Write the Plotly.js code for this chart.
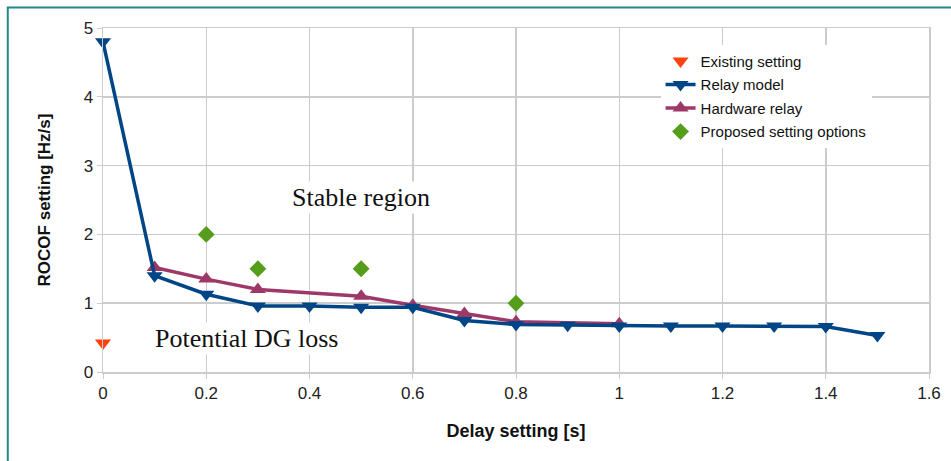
<!DOCTYPE html>
<html>
<head>
<meta charset="utf-8">
<script src="https://cdn.plot.ly/plotly-3.0.1.min.js"></script>
<style>html,body{margin:0;padding:0;background:#fff;}</style>
</head>
<body>
<div id="chart" style="width:951px;height:461px;"></div>
<script>
// Data
const existingX = [0];
const existingY = [0.42];

const relayX = [0, 0.1, 0.2, 0.3, 0.4, 0.5, 0.6, 0.7, 0.8, 0.9, 1.0, 1.1, 1.2, 1.3, 1.4, 1.5];
const relayY = [4.80, 1.40, 1.13, 0.96, 0.96, 0.94, 0.94, 0.75, 0.69, 0.68, 0.67, 0.67, 0.67, 0.67, 0.66, 0.53];

const hardwareX = [0.1, 0.2, 0.3, 0.5, 0.6, 0.7, 0.8, 1.0];
const hardwareY = [1.52, 1.35, 1.20, 1.10, 0.97, 0.85, 0.73, 0.70];

const proposedX = [0.2, 0.3, 0.5, 0.8];
const proposedY = [2.0, 1.5, 1.5, 1.0];

const xTicks = [0, 0.2, 0.4, 0.6, 0.8, 1, 1.2, 1.4, 1.6];
const yTicks = [0, 1, 2, 3, 4, 5];

const names = ['Existing setting', 'Relay model', 'Hardware relay', 'Proposed setting options'];
const labels = ['Stable region', 'Potential DG loss'];

const traces = [
  {x: existingX, y: existingY, name: names[0], mode: 'markers', type: 'scatter', legendrank: 1, legendgroup: 'a', cliponaxis: false,
   marker: {symbol: 'triangle-down', color: '#ff420e', size: 14}},
  {x: relayX, y: relayY, name: names[1], mode: 'lines+markers', type: 'scatter', legendrank: 2, legendgroup: 'b', cliponaxis: false,
   line: {color: '#004586', width: 3.5}, marker: {symbol: 'triangle-down', color: '#004586', size: 14}},
  {x: hardwareX, y: hardwareY, name: names[2], mode: 'lines+markers', type: 'scatter', legendrank: 3, legendgroup: 'c', cliponaxis: false,
   line: {color: '#9e3868', width: 3.5}, marker: {symbol: 'triangle-up', color: '#9e3868', size: 14}},
  {x: proposedX, y: proposedY, name: names[3], mode: 'markers', type: 'scatter', legendrank: 4, legendgroup: 'd', cliponaxis: false,
   marker: {symbol: 'diamond', color: '#579d1c', size: 13}}
];
// draw order: hardware under relay
const ordered = [traces[0], traces[2], traces[1], traces[3]];

const axisFont = {family: 'Liberation Sans, Arial, sans-serif', size: 17, color: '#222'};
const layout = {
  width: 951, height: 461,
  margin: {l: 103, r: 22, t: 28, b: 89},
  paper_bgcolor: '#fff', plot_bgcolor: '#fff',
  showlegend: true,
  legend: {
    x: 0.675, y: 0.951, xanchor: 'left', yanchor: 'top',
    bgcolor: '#fff', borderwidth: 0,
    font: {family: 'Liberation Sans, Arial, sans-serif', size: 15, color: '#111'},
    traceorder: 'grouped', tracegroupgap: 1
  },
  xaxis: {
    range: [0, 1.6], tickvals: xTicks, ticktext: xTicks.map(String),
    showgrid: true, gridcolor: '#cccccc', gridwidth: 1.5,
    zeroline: false, showline: true, mirror: true, linecolor: '#cccccc', linewidth: 1.5,
    ticks: 'outside', ticklen: 5, tickcolor: '#cccccc', tickfont: axisFont,
    title: {text: 'Delay setting [s]', font: {family: 'Liberation Sans, Arial, sans-serif', size: 18, color: '#111', weight: 'bold'}, standoff: 22}
  },
  yaxis: {
    range: [0, 5], tickvals: yTicks, ticktext: yTicks.map(String),
    showgrid: true, gridcolor: '#cccccc', gridwidth: 1.5,
    zeroline: false, showline: true, mirror: true, linecolor: '#cccccc', linewidth: 1.5,
    ticks: 'outside', ticklen: 5, tickcolor: '#cccccc', tickfont: axisFont,
    title: {text: 'ROCOF setting [Hz/s]', font: {family: 'Liberation Sans, Arial, sans-serif', size: 17, color: '#111', weight: 'bold'}, standoff: 28}
  },
  annotations: [
    {x: 0.5, y: 2.54, xref: 'x', yref: 'y', text: labels[0], showarrow: false,
     font: {family: 'Liberation Serif, Times New Roman, serif', size: 26, color: '#111'}, bgcolor: '#fff'},
    {x: 0.277, y: 0.48, xref: 'x', yref: 'y', text: labels[1], showarrow: false,
     font: {family: 'Liberation Serif, Times New Roman, serif', size: 26, color: '#111'}, bgcolor: '#fff'}
  ],
  shapes: [
    {type: 'rect', xref: 'paper', yref: 'paper', x0: -0.1153, x1: 1.2, y0: -0.4, y1: 1.0596,
     line: {color: '#23878a', width: 2}, fillcolor: 'rgba(0,0,0,0)', layer: 'below'}
  ]
};

Plotly.newPlot('chart', ordered, layout, {displayModeBar: false, staticPlot: true});
</script>
</body>
</html>
